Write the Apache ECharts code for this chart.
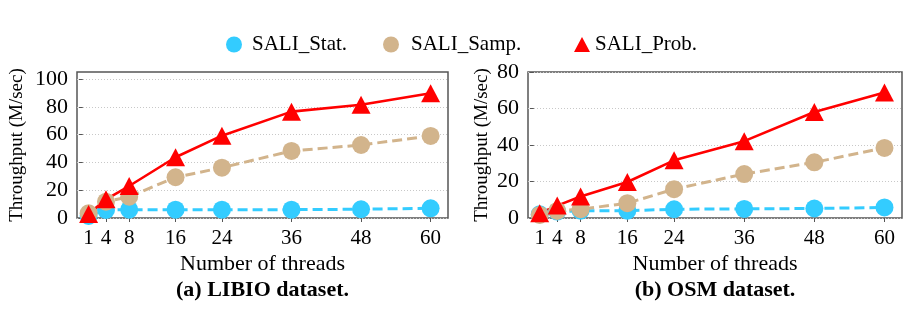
<!DOCTYPE html>
<html>
<head>
<meta charset="utf-8">
<script src="https://cdn.jsdelivr.net/npm/echarts@6/dist/echarts.min.js"></script>
<style>html,body{margin:0;padding:0;background:#fff;}#c{width:911px;height:312px;}</style>
</head>
<body>
<div id="c"></div>
<script>
const threads = [1, 4, 8, 16, 24, 36, 48, 60];
const xTicks = [1, 4, 8, 16, 24, 36, 48, 60];
const yTicksA = [0, 20, 40, 60, 80, 100];
const yTicksB = [0, 20, 40, 60, 80];
const seriesNames = ['SALI_Stat.', 'SALI_Samp.', 'SALI_Prob.'];
const libioStat = [1.5, 5.8, 6.0, 6.0, 6.0, 6.0, 6.3, 7.0];
const libioSamp = [3.4, 11.7, 15.3, 29.3, 36.2, 48.2, 52.5, 59.0];
const libioProb = [2.9, 13.4, 23.0, 43.7, 59.2, 76.5, 81.5, 89.7];
const osmStat = [2.0, 3.5, 4.0, 4.0, 4.8, 5.0, 5.2, 5.8];
const osmSamp = [1.7, 3.9, 4.8, 8.1, 15.8, 24.1, 30.5, 38.4];
const osmProb = [2.6, 6.8, 11.8, 19.7, 31.6, 42.1, 58.1, 68.8];
const captions = ['(a) LIBIO dataset.', '(b) OSM dataset.'];

const FONT = 'Liberation Serif';
const C_STAT = '#33ccff', C_SAMP = '#d2b48c', C_PROB = '#ff0000';

function pairs(vals){ return threads.map((t,i)=>[t, vals[i]]); }

const grids = [
  {left: 77, top: 72, width: 371, height: 146, show: true, borderColor: '#555', borderWidth: 1.5, backgroundColor: 'transparent'},
  {left: 528, top: 72, width: 374, height: 146, show: true, borderColor: '#555', borderWidth: 1.5, backgroundColor: 'transparent'}
];

function xAxis(gi){
  return {
    type: 'value', gridIndex: gi, min: -1, max: 63,
    name: 'Number of threads', nameLocation: 'middle', nameGap: 35,
    nameTextStyle: {fontFamily: FONT, fontSize: 22, color: '#000'},
    axisLine: {show: false},
    axisTick: {show: true, length: 4, lineStyle: {color: '#555', width: 1}, customValues: xTicks},
    axisLabel: {fontFamily: FONT, fontSize: 21, color: '#000', margin: 10, customValues: xTicks},
    splitLine: {show: false}
  };
}
function yAxis(gi, max, ticks, gap){
  return {
    type: 'value', gridIndex: gi, min: 0, max: max, interval: 20,
    name: 'Throughput (M/sec)', nameLocation: 'middle', nameGap: gap,
    nameTextStyle: {fontFamily: FONT, fontSize: 19, color: '#000'},
    axisLine: {show: false},
    axisTick: {show: true, length: 4, lineStyle: {color: '#555', width: 1}, customValues: ticks},
    axisLabel: {fontFamily: FONT, fontSize: 22, color: '#000', margin: 9, customValues: ticks},
    splitLine: {show: true, lineStyle: {color: '#c8c8c8', width: 1, type: [1, 2]}}
  };
}

function mk(name, gi, vals, color, dashed, symbol, size){
  return {
    name: name, type: 'line', xAxisIndex: gi, yAxisIndex: gi,
    data: pairs(vals),
    symbol: symbol, symbolSize: size, showSymbol: true,
    lineStyle: {color: color, width: dashed ? 3 : 2.6, type: dashed ? [10, 5] : 'solid'},
    itemStyle: {color: color, opacity: 1},
    emphasis: {disabled: true},
    animation: false
  };
}

const series = [
  mk(seriesNames[0], 0, libioStat, C_STAT, true, 'circle', 18),
  mk(seriesNames[1], 0, libioSamp, C_SAMP, true, 'circle', 18),
  mk(seriesNames[2], 0, libioProb, C_PROB, false, 'triangle', [19, 18]),
  mk(seriesNames[0], 1, osmStat, C_STAT, true, 'circle', 18),
  mk(seriesNames[1], 1, osmSamp, C_SAMP, true, 'circle', 18),
  mk(seriesNames[2], 1, osmProb, C_PROB, false, 'triangle', [19, 18])
];

function leg(name, left, icon, w, h){
  return {
    data: [{name: name, icon: icon}], left: left, top: 29,
    itemWidth: w, itemHeight: h, selectedMode: false,
    textStyle: {fontFamily: FONT, fontSize: 21, color: '#000'}
  };
}

const chart = echarts.init(document.getElementById('c'), null, {renderer: 'canvas'});
chart.setOption({
  animation: false,
  backgroundColor: '#fff',
  grid: grids,
  xAxis: [xAxis(0), xAxis(1)],
  yAxis: [yAxis(0, 105, yTicksA, 50), yAxis(1, 80, yTicksB, 36)],
  legend: [
    leg(seriesNames[0], 221, 'circle', 26, 16),
    leg(seriesNames[1], 378, 'circle', 30, 16),
    leg(seriesNames[2], 569, 'triangle', 16, 15)
  ],
  graphic: [
    {type: 'text', x: 262.5, y: 290, style: {text: captions[0], textAlign: 'center', textVerticalAlign: 'middle', font: 'bold 22px "Liberation Serif"', fill: '#000'}},
    {type: 'text', x: 715, y: 290, style: {text: captions[1], textAlign: 'center', textVerticalAlign: 'middle', font: 'bold 22px "Liberation Serif"', fill: '#000'}}
  ],
  series: series
});
</script>
</body>
</html>
